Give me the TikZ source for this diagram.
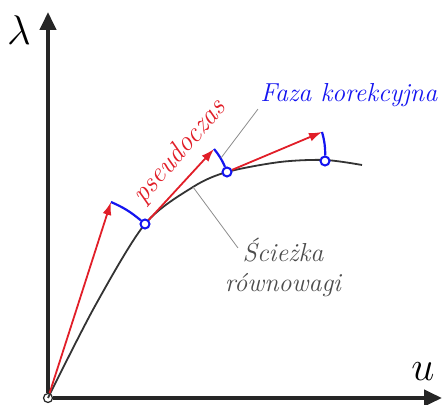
\documentclass[tikz,border=0pt]{standalone}
\usetikzlibrary{arrows.meta}
\definecolor{predred}{RGB}{225,30,40}
\definecolor{corblue}{RGB}{20,20,240}
\tikzset{
  axisline/.style={line width=2pt, black!85, -{Triangle[length=9pt,width=8pt]}},
  eqpath/.style={black!80, line width=0.9pt},
  predarrow/.style={predred, line width=0.9pt, -{Latex[length=6.5pt,width=4.5pt]}},
  corarc/.style={corblue, line width=1.1pt},
  knot/.style={circle, draw=corblue, fill=white, line width=1pt, minimum size=4.5pt, inner sep=0pt},
  leader/.style={black!45, line width=0.4pt},
  lbl/.style={font=\fontsize{13}{15}\selectfont\itshape, inner sep=1pt}
}

\begin{document}
\begin{tikzpicture}[x=0.5pt, y=-0.5pt]
\useasboundingbox (0,0) rectangle (445,405);
% axes
\node[circle, draw=black!85, fill=white, line width=0.6pt, minimum size=4.5pt, inner sep=0pt] (o) at (48,398) {};
\coordinate (ytip) at (48,12);
\coordinate (xtip) at (442,398);
\draw[axisline] (o) -- (ytip);
\draw[axisline] (o) -- (xtip);
\node[font=\fontsize{22}{24}\selectfont] (lam) at (19,30) {$\lambda$};
\node[font=\fontsize{22}{24}\selectfont] (u) at (423,372) {$u$};
% sciezka rownowagi
\draw[eqpath] plot[smooth] coordinates {(48,398) (95,306) (145,224) (193,187) (227,172) (280,162) (325,160) (362,165)};
\coordinate (t1) at (111,202);
\coordinate (t2) at (214,149);
\coordinate (t3) at (322,132);
\node[knot] (p1) at (145,224) {};
\node[knot] (p2) at (227,172) {};
\node[knot] (p3) at (325,161) {};
\draw[predarrow] (o) -- (t1);
\draw[predarrow] (p1) -- (t2);
\draw[predarrow] (p2) -- (t3);
\draw[corarc] (t1) to[bend left=8] (p1);
\draw[corarc] (t2) to[bend left=8] (p2);
\draw[corarc] (t3) to[bend left=8] (p3);
% opisy
\node[lbl, predred, rotate=49, font=\fontsize{14}{16}\selectfont\itshape] (pseudo) at (180,152) {pseudoczas};
\node[lbl, corblue, anchor=west] (faza) at (258,95) {Faza korekcyjna};
\node[lbl, black!70, align=center] (sciezka) at (283,267) {Ścieżka\\równowagi};
\coordinate (f0) at (221,158);
\coordinate (s0) at (193,187);
\coordinate (s1) at (238,248);
\draw[leader] (f0) -- (faza.south west);
\draw[leader] (s0) -- (s1);
\end{tikzpicture}
\end{document}
